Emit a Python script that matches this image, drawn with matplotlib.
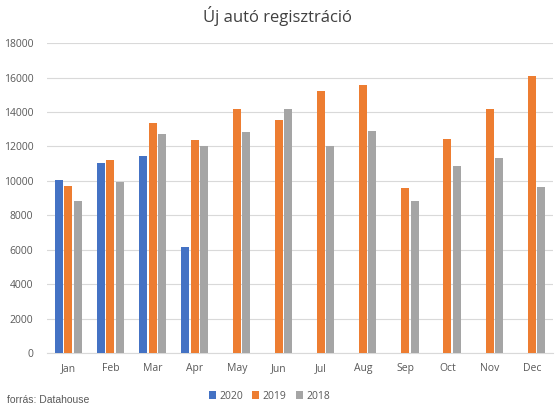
import numpy as np
import matplotlib.pyplot as plt

months = ["Jan", "Feb", "Mar", "Apr", "May", "Jun", "Jul", "Aug", "Sep", "Oct", "Nov", "Dec"]
y2020 = [10040, 11050, 11450, 6160, np.nan, np.nan, np.nan, np.nan, np.nan, np.nan, np.nan, np.nan]
y2019 = [9710, 11220, 13370, 12380, 14190, 13550, 15230, 15580, 9590, 12440, 14190, 16100]
y2018 = [8840, 9960, 12730, 12030, 12850, 14190, 12030, 12910, 8840, 10870, 11340, 9650]

plt.rcParams['font.family'] = ['Open Sans', 'DejaVu Sans']

fig = plt.figure(figsize=(5.55, 4.11), dpi=100)
ax = fig.add_axes([0.085, 0.141, 0.911, 0.754])

x = np.arange(len(months))
w = 0.19
off = 0.22
ax.bar(x - off, y2020, w, color='#4472C4', label='2020', zorder=3)
ax.bar(x, y2019, w, color='#ED7D31', label='2019', zorder=3)
ax.bar(x + off, y2018, w, color='#A5A5A5', label='2018', zorder=3)

ax.set_xlim(-0.5, 11.5)
ax.set_ylim(0, 18000)
ax.set_yticks(range(0, 18001, 2000))
ax.set_xticks(x)
ax.set_xticklabels(months)
ax.grid(axis='y', color='#D9D9D9', linewidth=0.8, zorder=0)
for s in ['top', 'right', 'left']:
    ax.spines[s].set_visible(False)
ax.spines['bottom'].set_color('#D9D9D9')
ax.tick_params(axis='both', length=0, labelsize=7.5, colors='#595959', pad=7)
ax.tick_params(axis='y', pad=10)

fig.suptitle("Új autó regisztráció", y=0.985, fontsize=12, color='#404040')
fig.legend(loc='lower center', bbox_to_anchor=(0.485, 0.0), ncol=3, frameon=False,
           fontsize=7.5, handlelength=0.7, handleheight=0.7, handletextpad=0.3,
           columnspacing=0.9, labelcolor='#595959')
fig.text(0.012, 0.02, "forrás: Datahouse", fontsize=7.5, color='#595959',
         family=['Liberation Sans', 'DejaVu Sans'])

fig.savefig("out.png", dpi=100)
